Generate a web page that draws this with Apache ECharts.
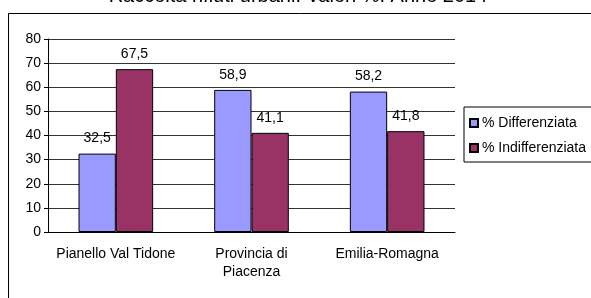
<!DOCTYPE html>
<html>
<head>
<meta charset="utf-8">
<script src="https://cdn.jsdelivr.net/npm/echarts@6/dist/echarts.min.js"></script>
<style>
  html, body { margin: 0; padding: 0; background: #fff; }
  #chart { width: 591px; height: 298px; }
</style>
</head>
<body>
<div id="chart"></div>
<script>
// dati
const categories = ['Pianello Val Tidone', 'Provincia di\nPiacenza', 'Emilia-Romagna']
const differenziata = [32.5, 58.9, 58.2]
const indifferenziata = [67.5, 41.1, 41.8]
const seriesNames = ['% Differenziata', '% Indifferenziata']
const titleText = 'Raccolta rifiuti urbani. Valori %. Anno 2014'

const font = 'Liberation Sans, Arial, sans-serif'
const fmt = p => String(p.value).replace('.', ',')

let chart = echarts.init(document.getElementById('chart'))
let option = {
  backgroundColor: '#fff',
  animation: false,
  graphic: [
    {
      // titolo, tagliato in alto come nell'originale
      type: 'text',
      x: 298,
      y: 6,
      style: {
        text: titleText,
        align: 'center',
        verticalAlign: 'bottom',
        fontFamily: font,
        fontSize: 20,
        fill: '#000'
      }
    },
    {
      type: 'rect',
      shape: { x: 8.5, y: 13.5, width: 640, height: 320 },
      style: { fill: 'none', stroke: '#000', lineWidth: 1 }
    }
  ],
  legend: {
    orient: 'vertical',
    left: 464,
    top: 107,
    padding: [9, 20, 7, 5],
    itemGap: 11,
    itemWidth: 8,
    itemHeight: 8,
    borderColor: '#000',
    borderWidth: 1,
    icon: 'rect',
    textStyle: { fontFamily: font, fontSize: 14, color: '#000', padding: [0, 0, 0, -1] },
    data: seriesNames
  },
  grid: { left: 48, top: 39, width: 407, height: 193, containLabel: false },
  xAxis: {
    type: 'category',
    data: categories,
    axisLine: { lineStyle: { color: '#000' } },
    axisTick: { lineStyle: { color: '#000' }, length: 4 },
    axisLabel: { interval: 0, fontFamily: font, fontSize: 14, color: '#000', margin: 13, lineHeight: 18 }
  },
  yAxis: {
    type: 'value',
    min: 0,
    max: 80,
    interval: 10,
    axisLine: { show: true, lineStyle: { color: '#000' } },
    axisTick: { show: true, inside: false, length: 4, lineStyle: { color: '#000' } },
    axisLabel: { fontFamily: font, fontSize: 14, color: '#000', margin: 7 },
    splitLine: { lineStyle: { color: '#333', width: 1 } }
  },
  series: [
    {
      name: seriesNames[0],
      type: 'bar',
      data: differenziata,
      barGap: '0%',
      barCategoryGap: '45%',
      itemStyle: { color: '#9999FF', borderColor: '#000', borderWidth: 1 },
      label: { show: true, position: 'top', distance: 8, formatter: fmt, fontFamily: font, fontSize: 14, color: '#000' }
    },
    {
      name: seriesNames[1],
      type: 'bar',
      data: indifferenziata,
      itemStyle: { color: '#993366', borderColor: '#000', borderWidth: 1 },
      label: { show: true, position: 'top', distance: 8, formatter: fmt, fontFamily: font, fontSize: 14, color: '#000' }
    }
  ]
}
chart.setOption(option)
</script>
</body>
</html>
